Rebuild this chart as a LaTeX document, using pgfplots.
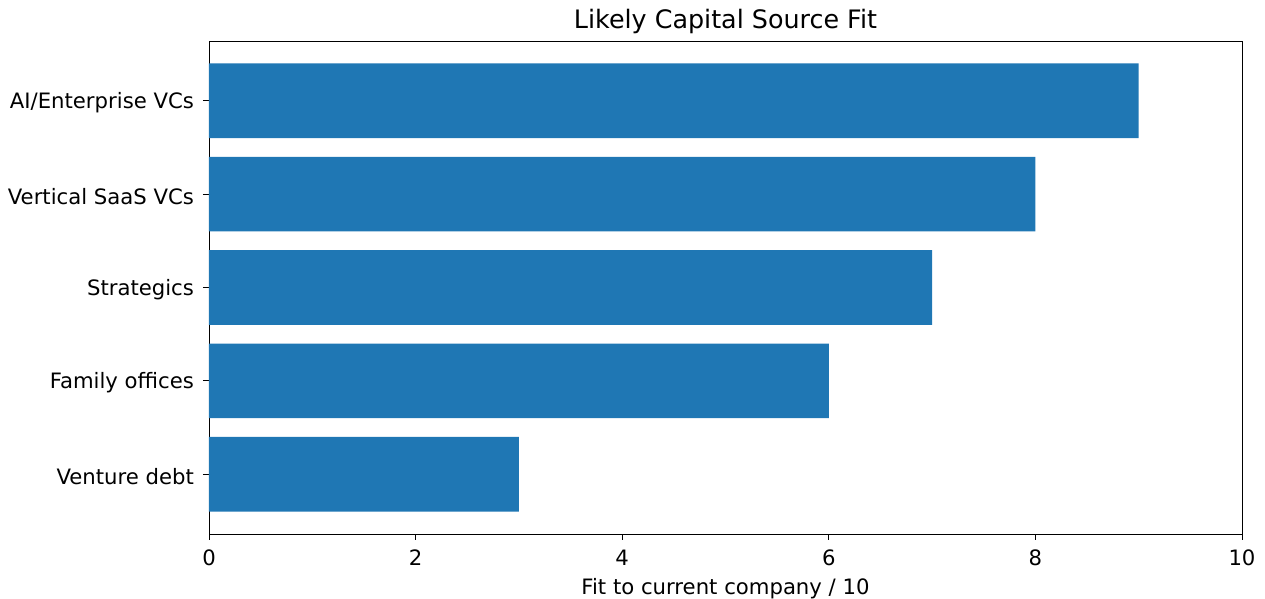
\documentclass[border=0pt]{standalone}
\usepackage{pgfplots}
\pgfplotsset{compat=1.18}
\usepackage{fontspec}
\setmainfont{DejaVu Sans}
\definecolor{mplblue}{HTML}{1F77B4}
\begin{document}
\begin{tikzpicture}
\useasboundingbox (-104.5pt,-32.5pt) rectangle (528pt,267pt);
\begin{axis}[
  at={(0,0)}, anchor=south west,
  scale only axis,
  width=516.5pt, height=246.5pt,
  xmin=0, xmax=10,
  ymin=-0.64, ymax=4.64,
  xtick={0,2,4,6,8,10},
  ytick={0,1,2,3,4},
  yticklabels={Venture debt,Family offices,Strategics,Vertical SaaS VCs,AI/Enterprise VCs},
  xtick pos=bottom, ytick pos=left,
  tick align=outside,
  major tick length=3pt,
  tick style={black, line width=0.4pt},
  axis line style={line width=0.4pt},
  /pgf/number format/assume math mode=true,
  ticklabel style={font=\fontsize{10.6pt}{12pt}\selectfont},
  xticklabel style={yshift=-1.3pt},
  yticklabel style={xshift=-1pt, yshift=-1pt},
  xlabel={Fit to current company / 10},
  xlabel style={font=\fontsize{10.6pt}{12pt}\selectfont, yshift=0.5pt},
  title={Likely Capital Source Fit},
  title style={font=\fontsize{12.7pt}{14pt}\selectfont, yshift=-6pt},
  xbar, bar width=0.8, bar shift=0pt,
]
\addplot[fill=mplblue, draw=none, y=0.8] coordinates {(3,0) (6,1) (7,2) (8,3) (9,4)};
\end{axis}
\end{tikzpicture}
\end{document}
